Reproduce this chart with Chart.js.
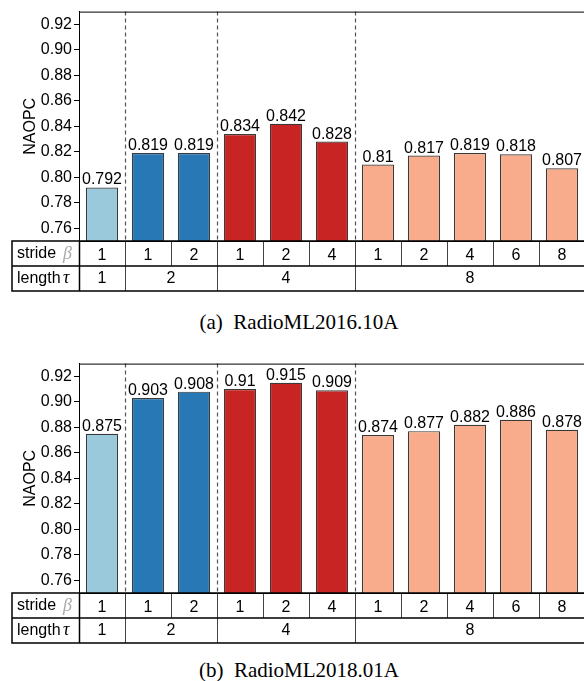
<!DOCTYPE html>
<html>
<head>
<meta charset="utf-8">
<script src="https://cdn.jsdelivr.net/npm/chart.js@4"></script>
<style>
  body { margin: 0; background: #fff; }
  #wrap { position: relative; width: 584px; height: 681px; overflow: hidden; }
  .box { position: absolute; left: 0; width: 590px; height: 296px; }
  .cap { position: absolute; left: 0; width: 598px; text-align: center;
         font: 21px 'Liberation Serif', 'Times New Roman', serif; line-height: 20px; color: #000; }
</style>
</head>
<body>
<div id="wrap">
  <div class="box" style="top:0"><canvas id="chartA" width="590" height="296"></canvas></div>
  <div class="cap" style="top:312px">(a)&nbsp; RadioML2016.10A</div>
  <div class="box" style="top:352px"><canvas id="chartB" width="590" height="296"></canvas></div>
  <div class="cap" style="top:660px">(b)&nbsp; RadioML2018.01A</div>
</div>
<script>
// stride of every bar (x axis) and the length groups under them
const strides = ['1', '1', '2', '1', '2', '4', '1', '2', '4', '6', '8'];
const lengths = ['1', '2', '4', '8'];
const groupSize = [1, 2, 3, 5];
const groupColors = ['#9AC9DB', '#2878B5', '#C82423', '#F8AC8C'];

const valuesA = [0.792, 0.819, 0.819, 0.834, 0.842, 0.828, 0.81, 0.817, 0.819, 0.818, 0.807];
const valuesB = [0.875, 0.903, 0.908, 0.91, 0.915, 0.909, 0.874, 0.877, 0.882, 0.886, 0.878];

const yTicks = [0.76, 0.78, 0.80, 0.82, 0.84, 0.86, 0.88, 0.90, 0.92];
const yMin = 0.75, yMax = 0.93;

const FONT = "'Liberation Sans', Arial, sans-serif";
const FS = 16;

// bar colour follows its length group
let barColors = [];
groupSize.forEach((n, g) => { for (let i = 0; i < n; i++) barColors.push(groupColors[g]); });

const tablePlugin = {
  id: 'table',
  beforeDatasetsDraw(chart) {
    // dashed separators between length groups
    const ctx = chart.ctx, area = chart.chartArea, xs = chart.scales.x;
    ctx.save();
    ctx.strokeStyle = '#555';
    ctx.lineWidth = 1.2;
    ctx.setLineDash([4, 3]);
    let idx = 0;
    for (let g = 0; g < groupSize.length - 1; g++) {
      idx += groupSize[g];
      const x = Math.round((xs.getPixelForValue(idx - 1) + xs.getPixelForValue(idx)) / 2) + 0.5;
      ctx.beginPath();
      ctx.moveTo(x, area.top);
      ctx.lineTo(x, area.bottom);
      ctx.stroke();
    }
    ctx.restore();
  },
  afterDatasetsDraw(chart) {
    // value labels on top of bars
    const ctx = chart.ctx;
    const meta = chart.getDatasetMeta(0);
    const vals = chart.data.datasets[0].data;
    ctx.save();
    ctx.font = FS + 'px ' + FONT;
    ctx.fillStyle = '#000';
    ctx.textAlign = 'center';
    ctx.textBaseline = 'alphabetic';
    meta.data.forEach((bar, i) => {
      ctx.fillText(String(vals[i]), bar.x, bar.y - 3);
    });
    ctx.restore();
  },
  afterDraw(chart) {
    const ctx = chart.ctx, area = chart.chartArea, xs = chart.scales.x;
    const half = (xs.getPixelForValue(1) - xs.getPixelForValue(0)) / 2;
    const top = area.bottom, mid = top + 25, bot = top + 50;
    const left = 12, right = chart.width + 2;
    ctx.save();
    // plot frame
    ctx.strokeStyle = '#000';
    ctx.lineWidth = 1;
    ctx.strokeRect(area.left + 0.5, area.top + 0.5, area.right - area.left, area.bottom - area.top);

    // inner lines of the table
    ctx.strokeStyle = '#444';
    ctx.lineWidth = 1;
    for (let i = 1; i < strides.length; i++) {
      const x = Math.round(xs.getPixelForValue(i) - half) + 0.5;
      ctx.beginPath(); ctx.moveTo(x, top); ctx.lineTo(x, mid); ctx.stroke();
    }
    let idx = 0;
    for (let g = 0; g < groupSize.length - 1; g++) {
      idx += groupSize[g];
      const x = Math.round(xs.getPixelForValue(idx) - half) + 0.5;
      ctx.beginPath(); ctx.moveTo(x, mid); ctx.lineTo(x, bot); ctx.stroke();
    }
    // outer lines
    ctx.strokeStyle = '#000';
    ctx.lineWidth = 1.5;
    ctx.beginPath();
    ctx.moveTo(right, top); ctx.lineTo(left, top); ctx.lineTo(left, bot); ctx.lineTo(right, bot);
    ctx.moveTo(left, mid); ctx.lineTo(right, mid);
    ctx.moveTo(area.left + 0.5, top); ctx.lineTo(area.left + 0.5, bot);
    ctx.stroke();

    // length row labels
    ctx.font = FS + 'px ' + FONT;
    ctx.fillStyle = '#000';
    ctx.textAlign = 'center';
    ctx.textBaseline = 'middle';
    idx = 0;
    lengths.forEach((lab, g) => {
      const x0 = xs.getPixelForValue(idx) - half;
      const x1 = xs.getPixelForValue(idx + groupSize[g] - 1) + half;
      ctx.fillText(lab, (x0 + x1) / 2, mid + 13);
      idx += groupSize[g];
    });

    // row headers
    ctx.textAlign = 'left';
    ctx.fillText('stride', 17, top + 13);
    ctx.fillText('length', 17, mid + 13);
    ctx.font = 'italic 18px "Liberation Serif", serif';
    ctx.fillStyle = '#aaa';
    ctx.fillText('\u03B2', 63, top + 13);
    ctx.fillStyle = '#000';
    ctx.fillText('\u03C4', 63, mid + 12);
    ctx.restore();
  }
};

function makeChart(id, values) {
  const ctx = document.getElementById(id).getContext('2d');
  return new Chart(ctx, {
    type: 'bar',
    data: {
      labels: strides,
      datasets: [{
        data: values,
        backgroundColor: barColors,
        borderColor: '#3a3a3a',
        borderWidth: 1.2,
        barPercentage: 0.7,
        categoryPercentage: 1.0
      }]
    },
    options: {
      responsive: false,
      animation: false,
      devicePixelRatio: 1,
      layout: { padding: { top: 7, left: 0, right: 5, bottom: 5 } },
      plugins: { legend: { display: false }, tooltip: { enabled: false } },
      scales: {
        x: {
          grid: { display: false, drawTicks: false },
          border: { display: false },
          ticks: { color: '#000', font: { size: FS, family: FONT }, padding: 5, maxRotation: 0, autoSkip: false },
          afterFit(scale) { scale.height = 50; }
        },
        y: {
          min: yMin,
          max: yMax,
          afterBuildTicks(scale) { scale.ticks = yTicks.map(v => ({ value: v })); },
          afterFit(scale) { scale.width = 79; },
          grid: { drawOnChartArea: false, drawTicks: true, tickLength: 5, color: '#000' },
          border: { color: '#000', width: 1 },
          ticks: {
            color: '#000',
            padding: 2,
            font: { size: FS, family: FONT },
            callback: v => v.toFixed(2)
          },
          title: {
            display: true,
            text: 'NAOPC',
            color: '#000',
            font: { size: FS, family: FONT },
            padding: { top: 21, bottom: 0 }
          }
        }
      }
    },
    plugins: [tablePlugin]
  });
}

makeChart('chartA', valuesA);
makeChart('chartB', valuesB);
</script>
</body>
</html>
